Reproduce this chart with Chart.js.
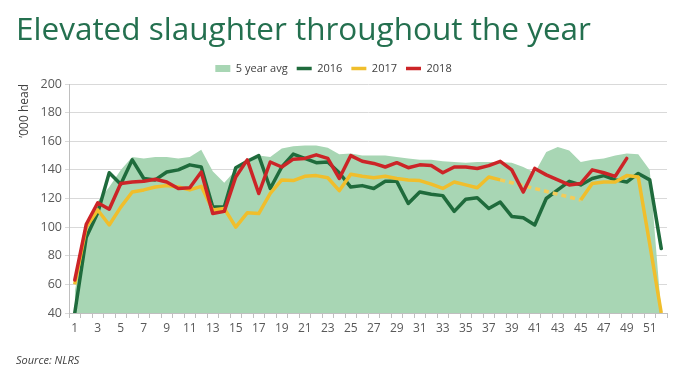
<!DOCTYPE html>
<html>
<head>
<meta charset="utf-8">
<script src="https://cdn.jsdelivr.net/npm/chart.js@4/dist/chart.umd.min.js"></script>
<style>
  body { margin: 0; background: #fff; }
  #wrap { position: relative; width: 685px; height: 371px; }
  #myChart { position: absolute; left: 0; top: 0; }
  .title {
    position: absolute; left: 16px; top: 12px;
    font-family: 'Open Sans', sans-serif; font-size: 31.5px; line-height: 31px;
    color: #24704f; white-space: nowrap;
  }
  .source {
    position: absolute; left: 16px; top: 354px;
    font-family: 'Open Sans', sans-serif; font-size: 11px; line-height: 11px;
    font-style: italic; color: #404040;
  }
</style>
</head>
<body>
<div id="wrap">
  <canvas id="myChart" width="685" height="371"></canvas>
  <div class="title">Elevated slaughter throughout the year</div>
  <div class="source">Source: NLRS</div>
</div>
<script>
// weeks 1..52
const weeks = [];
for (let i = 1; i <= 52; i++) weeks.push(String(i));

// y axis ticks
const yMin = 40;
const yMax = 200;
const yStep = 20;

// 5 year average (area)
const avg5 = [55, 99, 118, 128, 140, 149, 148, 149, 149, 148, 149, 154, 139, 131, 140, 147, 150, 149, 155, 156.5,
  157, 157, 155.5, 151, 151.5, 150, 150, 150, 149, 148, 147, 147, 146, 145.5, 145, 145.5, 145.5, 145.5, 145, 142,
  138, 152.5, 156, 153.5, 145.5, 147, 148, 150, 151.5, 151, 140, 40];

// 2016
const y2016 = [40, 93, 110, 138, 130, 147, 134, 133, 138.5, 140, 143.5, 142, 114, 114, 141.5, 146, 150, 127, 142, 151,
  148, 145, 145.5, 138, 128, 129, 127, 132, 132, 116.5, 124.5, 123, 122, 111, 119.5, 120.5, 113, 117.5, 107.5, 106.5,
  101.5, 120, 126, 132, 129.5, 134, 136, 133, 131.5, 137.5, 133, 85];

// 2017 (weeks 39-44 missing)
const y2017 = [60, 100, 112, 101.5, 114, 124.5, 126, 128, 129, 128, 126, 128.5, 112, 113, 100, 110, 109.5, 123.5, 133, 132.5,
  135.5, 136, 134.5, 125.5, 137, 135.5, 134.5, 135.5, 134, 133, 132.5, 130, 127, 131.5, 129.5, 127.5, 135, 133, null, null,
  null, null, null, null, 119, 130.5, 131.5, 131.5, 136, 135, 88, 40];

// 2018 (to week 49)
const y2018 = [63, 102, 117, 112.5, 130.5, 131.5, 132, 133.5, 131.5, 127, 127.5, 138.5, 109.5, 111, 135, 147, 123.5, 145.5, 142, 147.5,
  148, 150.5, 148, 134, 150, 146, 144.5, 142, 145, 141.5, 143.5, 143, 138, 142, 142, 141, 143, 146, 140, 124.5,
  141, 136.5, 133, 129.5, 130.5, 140, 138, 135.5, 148, null, null, null];

Chart.defaults.font.family = "'Open Sans', sans-serif";
Chart.defaults.color = '#595959';

// dashed line across missing weeks
const gapDash = (ctx) => (ctx.p0.skip || ctx.p1.skip) ? [5, 4] : undefined;
const gapColor = (ctx) => (ctx.p0.skip || ctx.p1.skip) ? '#f3cc5a' : undefined;

const lineStyle = {
  type: 'line',
  fill: false,
  borderWidth: 3.5,
  pointRadius: 0,
  pointStyle: 'line',
  tension: 0,
  borderJoinStyle: 'round',
  borderCapStyle: 'round'
};

let ctx = document.getElementById('myChart').getContext('2d');
let myChart = new Chart(ctx, {
  type: 'line',
  data: {
    labels: weeks,
    datasets: [
      {
        label: '5 year avg',
        data: avg5,
        fill: 'start',
        backgroundColor: '#a8d6b4',
        borderWidth: 0,
        borderColor: 'rgba(0,0,0,0)',
        pointRadius: 0,
        pointStyle: 'rect',
        tension: 0,
        order: 3
      },
      Object.assign({}, lineStyle, {
        label: '2016',
        data: y2016,
        borderColor: '#1f6b3c',
        backgroundColor: '#1f6b3c',
        order: 2
      }),
      Object.assign({}, lineStyle, {
        label: '2017',
        data: y2017,
        borderColor: '#f0be2c',
        backgroundColor: '#f0be2c',
        borderCapStyle: 'butt',
        spanGaps: true,
        segment: { borderDash: gapDash, borderColor: gapColor },
        order: 1
      }),
      Object.assign({}, lineStyle, {
        label: '2018',
        data: y2018,
        borderColor: '#cc2427',
        backgroundColor: '#cc2427',
        order: 0
      })
    ]
  },
  options: {
    responsive: false,
    animation: false,
    layout: { padding: { top: 54, right: 18, bottom: 28, left: 0 } },
    plugins: {
      tooltip: { enabled: false },
      legend: {
        position: 'top',
        labels: {
          usePointStyle: true,
          pointStyleWidth: 15,
          boxHeight: 7,
          padding: 9,
          color: '#404040',
          font: { size: 11 },
          sort: (a, b) => a.datasetIndex - b.datasetIndex
        }
      }
    },
    scales: {
      x: {
        type: 'category',
        offset: true,
        afterFit: (scale) => { scale.height = 30; },
        grid: {
          offset: true,
          drawOnChartArea: false,
          drawTicks: true,
          tickLength: 5,
          color: '#bfbfbf'
        },
        border: { color: '#bfbfbf' },
        ticks: {
          autoSkip: false,
          maxRotation: 0,
          padding: 3,
          font: { size: 12 },
          color: '#595959',
          callback: function (value, index) {
            return index % 2 === 0 ? this.getLabelForValue(value) : '';
          }
        }
      },
      y: {
        min: yMin,
        max: yMax,
        afterFit: (scale) => { scale.width = 69; },
        grid: { color: '#d9d9d9', tickLength: 4 },
        border: { color: '#bfbfbf' },
        ticks: {
          stepSize: yStep,
          padding: 3,
          font: { size: 12.5 },
          color: '#595959'
        },
        title: {
          display: true,
          text: '\u2019000 head',
          align: 'end',
          color: '#404040',
          font: { size: 12 },
          padding: { top: 17, bottom: 0 }
        }
      }
    }
  }
});
</script>
</body>
</html>
